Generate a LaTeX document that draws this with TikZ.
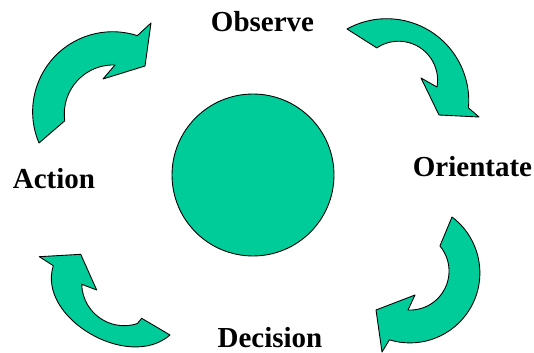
\documentclass[tikz,border=0pt]{standalone}
\usepackage{fontspec}
\setmainfont{Liberation Serif}
\usepackage{tikz}
\usetikzlibrary{shapes.geometric, positioning}
\definecolor{loopgreen}{RGB}{0,204,153}

\begin{document}
\begin{tikzpicture}[
    x=0.02cm, y=0.02cm,
    loopblock/.style={fill=loopgreen, draw=black, line width=0.5pt, line join=round},
    stagelabel/.style={font=\fontsize{16.5}{20}\selectfont\bfseries, anchor=base, inner sep=0pt}
]
    \useasboundingbox (0,0) rectangle (534,352);

    % Centre disc
    \node[loopblock, circle, minimum size=3.24cm, inner sep=0pt] (core) at (253,177) {};

    % Stage labels
    \node[stagelabel] (observe) at (262.5,320) {Observe};
    \node[stagelabel] (orientate) at (472.5,175) {Orientate};
    \node[stagelabel] (decision) at (270,5) {Decision};
    \node[stagelabel] (action) at (54,164) {Action};

    % Action to Observe
    \draw[loopblock] (39,209) arc[start angle=203, end angle=72, radius=80]
        -- (151,329) -- (145,286) -- (103,273)
        -- (115,287) arc[start angle=88, end angle=188, radius=49] -- cycle;

    % Observe to Orientate
    \draw[loopblock] (347,323) arc[start angle=119, end angle=-5, radius=82]
        -- (479,235) -- (439,237) -- (421,274)
        -- (437,265) arc[start angle=-10, end angle=124, radius=39] -- cycle;

    % Orientate to Decision
    \draw[loopblock] (452,135) arc[start angle=53, end angle=-107, radius=70]
        -- (382,0) -- (376,42) -- (415,57)
        -- (408,42) arc[start angle=-93, end angle=40, radius=39] -- cycle;

    % Decision to Action
    \draw[loopblock] (170,17) .. controls (128.7,-19.3) and (36.8,34) .. (53.3,86.3)
        -- (39.3,95.3) -- (80.7,97.7) -- (96.7,62)
        -- (81.7,67.7) arc[start angle=181.5, end angle=288, radius=42.5]
        -- (141.7,33.7) -- cycle;
\end{tikzpicture}
\end{document}
